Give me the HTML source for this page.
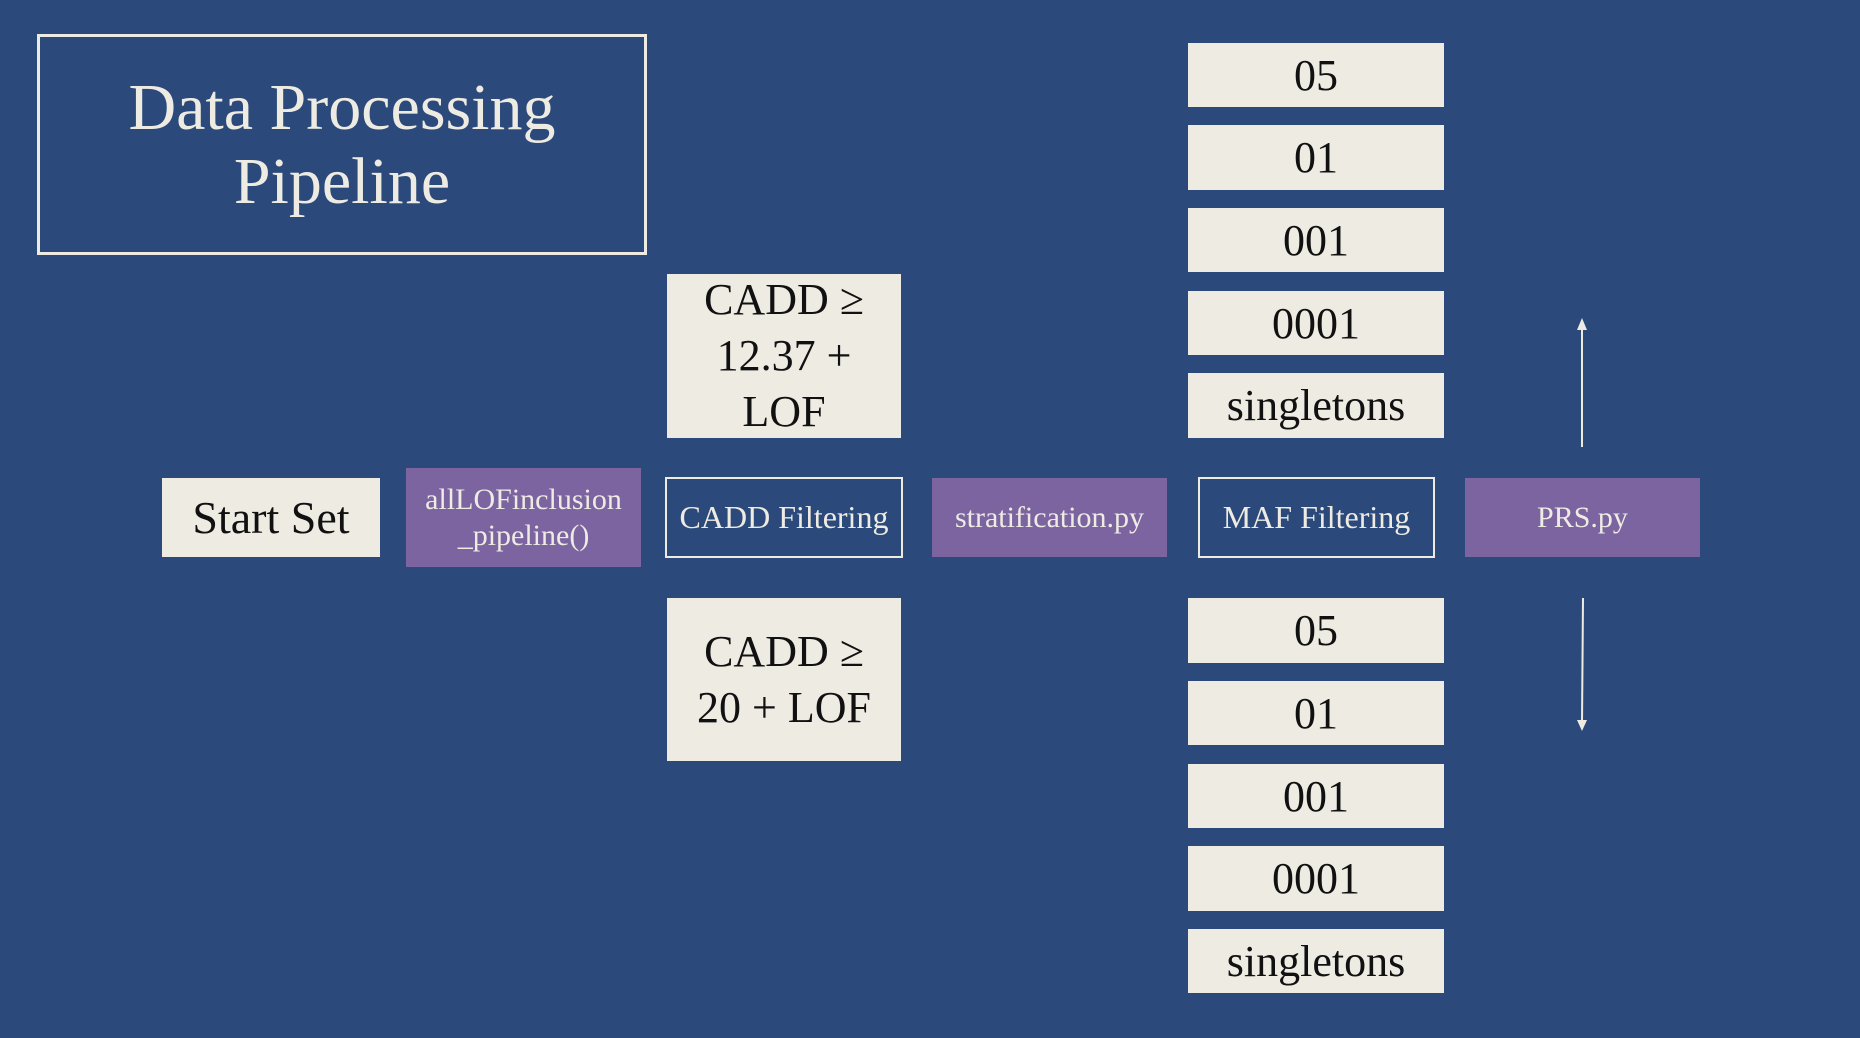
<!DOCTYPE html>
<html><head><meta charset="utf-8"><style>
body{margin:0;width:1860px;height:1038px;background:#2b4a7b;position:relative;overflow:hidden;font-family:"Liberation Serif",serif;}
.b{position:absolute;display:flex;align-items:center;justify-content:center;text-align:center;box-sizing:border-box;}
.c{background:#eeebe3;color:#111;}
.p{background:#7b64a0;color:#eeebe3;}
.o{border:2px solid #eeebe3;color:#eeebe3;}
.n{font-size:44px;}
</style></head><body>
<div class="b o" style="left:37px;top:34px;width:610px;height:221px;border-width:3px;font-size:66px;line-height:74px;font-weight:normal;">Data Processing<br>Pipeline</div>
<div class="b c" style="left:162px;top:478px;width:218px;height:79px;font-size:46px;">Start Set</div>
<div class="b p" style="left:406px;top:468px;width:235px;height:99px;font-size:30px;line-height:36px;">allLOFinclusion<br>_pipeline()</div>
<div class="b o" style="left:665px;top:477px;width:238px;height:81px;font-size:32px;">CADD Filtering</div>
<div class="b c" style="left:667px;top:274px;width:234px;height:164px;font-size:44px;line-height:56px;">CADD ≥<br>12.37 +<br>LOF</div>
<div class="b c" style="left:667px;top:598px;width:234px;height:163px;font-size:44px;line-height:56px;">CADD ≥<br>20 + LOF</div>
<div class="b p" style="left:932px;top:478px;width:235px;height:79px;font-size:30px;">stratification.py</div>
<div class="b o" style="left:1198px;top:477px;width:237px;height:81px;font-size:32px;">MAF Filtering</div>
<div class="b p" style="left:1465px;top:478px;width:235px;height:79px;font-size:30px;">PRS.py</div>
<div class="b c n" style="left:1188px;top:43px;width:256px;height:64px;">05</div>
<div class="b c n" style="left:1188px;top:125px;width:256px;height:65px;">01</div>
<div class="b c n" style="left:1188px;top:208px;width:256px;height:64px;">001</div>
<div class="b c n" style="left:1188px;top:291px;width:256px;height:64px;">0001</div>
<div class="b c n" style="left:1188px;top:373px;width:256px;height:65px;">singletons</div>
<div class="b c n" style="left:1188px;top:598px;width:256px;height:65px;">05</div>
<div class="b c n" style="left:1188px;top:681px;width:256px;height:64px;">01</div>
<div class="b c n" style="left:1188px;top:764px;width:256px;height:64px;">001</div>
<div class="b c n" style="left:1188px;top:846px;width:256px;height:65px;">0001</div>
<div class="b c n" style="left:1188px;top:929px;width:256px;height:64px;">singletons</div>
<svg style="position:absolute;left:0;top:0" width="1860" height="1038">
<g stroke="#eeebe3" stroke-width="2" fill="#eeebe3">
<line x1="1582" y1="447" x2="1582" y2="324"/>
<polygon points="1577,330 1587,330 1582,318" stroke="none"/>
<line x1="1583" y1="598" x2="1582" y2="724"/>
<polygon points="1577,720 1587,720 1582,731" stroke="none"/>
</g></svg>
</body></html>
